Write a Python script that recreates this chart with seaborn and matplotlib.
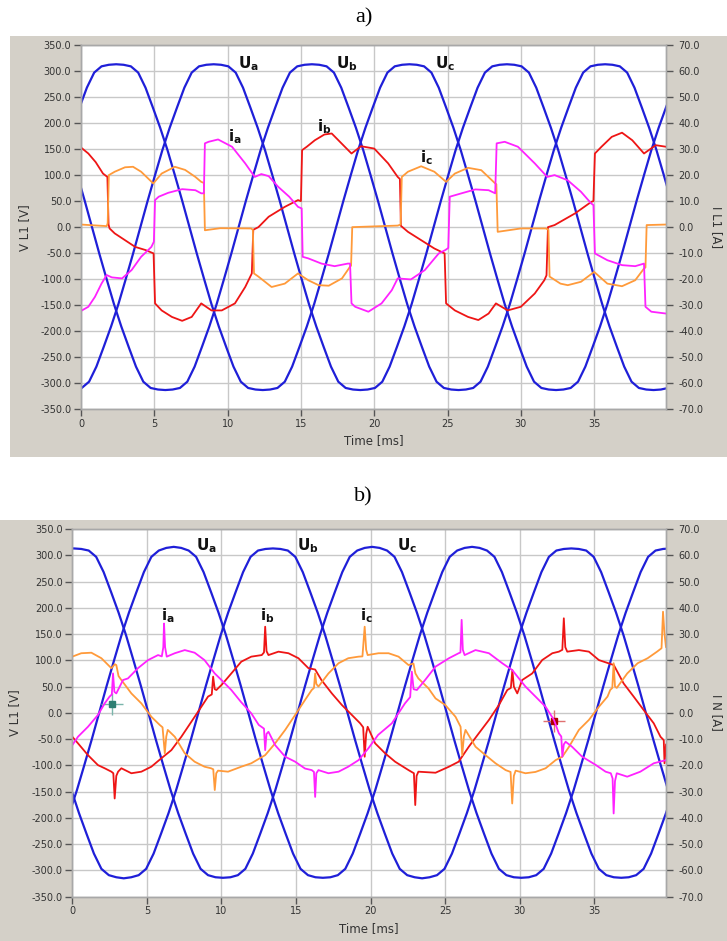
import numpy as np
import matplotlib
matplotlib.use("Agg")
import matplotlib.pyplot as plt
import seaborn as sns
from matplotlib.patches import Rectangle

# ------------------------------------------------------------------ data
SAMPLE_MS = 0.5   # voltage traces are read every 0.5 ms from their start time

# panel a) phase voltages [V]
ua_a_start = -0.45
ua_a = [-312, -309, -297, -268, -230, -191, -148, -100, -51,
        0, 51, 100, 148, 191, 230, 268, 297, 309, 312, 313, 312, 309, 297, 268, 230, 191, 148, 100, 51,
        0, -51, -100, -148, -191, -230, -268, -297, -309, -312, -313, -312, -309, -297, -268, -230, -191, -148, -100, -51,
        0, 51, 100, 148, 191, 230, 268, 297, 309, 312, 313, 312, 309, 297, 268, 230, 191, 148, 100, 51,
        0, -51, -100, -148, -191, -230, -268, -297, -309, -312, -313, -312, -309]
ub_a_start = -0.25
ub_a = [100, 51, 0, -51, -100, -148, -191, -230, -268, -297, -309, -312, -313, -312, -309, -297, -268, -230, -191, -148, -100, -51,
        0, 51, 100, 148, 191, 230, 268, 297, 309, 312, 313, 312, 309, 297, 268, 230, 191, 148, 100, 51,
        0, -51, -100, -148, -191, -230, -268, -297, -309, -312, -313, -312, -309, -297, -268, -230, -191, -148, -100, -51,
        0, 51, 100, 148, 191, 230, 268, 297, 309, 312, 313, 312, 309, 297, 268, 230, 191, 148, 100, 51]
uc_a_start = -0.10
uc_a = [230, 268, 297, 309, 312, 313, 312, 309, 297, 268, 230, 191, 148, 100, 51,
        0, -51, -100, -148, -191, -230, -268, -297, -309, -312, -313, -312, -309, -297, -268, -230, -191, -148, -100, -51,
        0, 51, 100, 148, 191, 230, 268, 297, 309, 312, 313, 312, 309, 297, 268, 230, 191, 148, 100, 51,
        0, -51, -100, -148, -191, -230, -268, -297, -309, -312, -313, -312, -309, -297, -268, -230, -191, -148, -100, -51,
        0, 51, 100, 148, 191, 230, 268]

# panel b) phase voltages [V]
ua_b_start = -0.20
ua_b = [-191, -148, -100, -51,
        0, 51, 100, 148, 191, 230, 268, 297, 309, 314, 316, 314, 309, 297, 268, 230, 191, 148, 100, 51,
        0, -51, -100, -148, -191, -230, -268, -297, -309, -313, -314, -313, -309, -297, -268, -230, -191, -148, -100, -51,
        0, 51, 100, 148, 191, 230, 268, 297, 309, 314, 316, 314, 309, 297, 268, 230, 191, 148, 100, 51,
        0, -51, -100, -148, -191, -230, -268, -297, -309, -313, -314, -313, -309, -297, -268, -230, -191, -148]
ub_b_start = -0.05
ub_b = [-148, -191, -230, -268, -297, -309, -313, -315, -313, -309, -297, -268, -230, -191, -148, -100, -51,
        0, 51, 100, 148, 191, 230, 268, 297, 309, 312, 313, 312, 309, 297, 268, 230, 191, 148, 100, 51,
        0, -51, -100, -148, -191, -230, -268, -297, -309, -313, -315, -313, -309, -297, -268, -230, -191, -148, -100, -51,
        0, 51, 100, 148, 191, 230, 268, 297, 309, 312, 313, 312, 309, 297, 268, 230, 191, 148, 100, 51,
        0, -51, -100, -148, -191]
uc_b_start = -0.40
uc_b = [312, 313, 312, 309, 297, 268, 230, 191, 148, 100, 51,
        0, -51, -100, -148, -191, -230, -268, -297, -309, -313, -314, -313, -309, -297, -268, -230, -191, -148, -100, -51,
        0, 51, 100, 148, 191, 230, 268, 297, 309, 314, 316, 314, 309, 297, 268, 230, 191, 148, 100, 51,
        0, -51, -100, -148, -191, -230, -268, -297, -309, -313, -314, -313, -309, -297, -268, -230, -191, -148, -100, -51,
        0, 51, 100, 148, 191, 230, 268, 297, 309, 312, 313]

# panel a) phase currents [ms, A]
ia_a = [(0, -32.2), (0.5, -30.6), (0.95, -26.8), (1.4, -21.7), (1.75, -18.4), (2.1, -19.3), (2.8, -19.7),
        (3.45, -16.5), (4.1, -11.4), (4.8, -7.6), (4.97, -5.6), (5.05, 10.4), (5.3, 11.7), (5.95, 13.2),
        (6.9, 14.6), (7.8, 14.2), (8.2, 13.0), (8.38, 13.0), (8.45, 32.2), (8.7, 32.8), (9.35, 33.7),
        (10.3, 30.9), (11.2, 24.5), (11.85, 19.3), (12.3, 20.4), (12.8, 19.6), (13.45, 15.5), (14.2, 11.7),
        (14.8, 7.8), (15.05, 7.2), (15.12, -11.4), (15.5, -12.0), (16.4, -14.0), (17.3, -15.0), (18.2, -14.0),
        (18.35, -14.0), (18.45, -29.3), (18.7, -30.6), (19.6, -32.5), (20.5, -29.3), (21.2, -24.2),
        (21.6, -19.7), (22.5, -20.1), (23.45, -16.5), (24.4, -10.1), (24.85, -8.8), (25.05, -8.0),
        (25.15, 11.7), (25.95, 13.0), (26.9, 14.5), (27.8, 14.2), (28.25, 13.0), (28.35, 32.2), (28.9, 32.8),
        (29.8, 30.9), (30.95, 24.5), (31.8, 19.3), (32.3, 20.0), (33.2, 18.0), (34.1, 13.6), (34.8, 9.1),
        (34.95, 8.5), (35.05, -10.1), (35.9, -12.7), (36.9, -14.6), (37.8, -15.0), (38.4, -14.0),
        (38.5, -30.6), (38.9, -32.5), (39.9, -33.2)]
ib_a = [(0, 30.6), (0.5, 28.3), (1.0, 25.0), (1.5, 20.6), (1.8, 19.3), (1.88, 1.0), (1.95, -0.5), (2.3, -2.4),
        (3.0, -5.0), (3.7, -7.6), (4.4, -8.8), (4.95, -10.1), (5.05, -29.3), (5.5, -32.0), (6.2, -34.5),
        (6.9, -36.0), (7.55, -34.5), (8.2, -29.3), (8.9, -32.0), (9.6, -32.0), (10.5, -29.3), (11.2, -23.0),
        (11.65, -17.8), (11.75, -1.0), (12.1, 0.0), (12.8, 4.0), (13.9, 7.8), (14.8, 10.4), (15.0, 10.0),
        (15.08, 29.6), (15.4, 30.9), (15.95, 33.4), (16.6, 35.6), (17.1, 36.0), (17.8, 32.0), (18.45, 28.3),
        (19.1, 31.1), (20.0, 30.2), (20.95, 24.5), (21.6, 19.3), (21.75, 18.5), (21.82, 0.5), (22.3, -1.8),
        (23.2, -5.0), (24.1, -8.2), (24.8, -10.1), (24.9, -29.3), (25.5, -32.0), (26.4, -34.5), (27.1, -35.7),
        (27.8, -33.2), (28.3, -29.3), (29.1, -32.0), (30.0, -30.6), (30.95, -25.5), (31.6, -20.4),
        (31.75, -18.5), (31.85, 0.0), (32.3, 0.8), (33.7, 5.3), (34.8, 9.7), (34.95, 10.0), (35.05, 28.3),
        (35.5, 30.9), (36.2, 34.7), (36.9, 36.3), (37.6, 33.4), (38.4, 28.3), (39.2, 31.5), (39.9, 30.9)]
ic_a = [(0, 1.0), (1.75, 0.4), (1.82, 1.5), (1.9, 20.0), (2.3, 21.3), (3.0, 23.0), (3.55, 23.2), (4.1, 21.3),
        (4.93, 16.8), (5.5, 20.6), (6.4, 23.2), (7.1, 22.0), (7.8, 19.3), (8.2, 17.4), (8.38, 17.0),
        (8.45, -1.2), (9.5, -0.4), (11.6, -0.5), (11.72, -1.0), (11.8, -17.8), (12.1, -19.0), (13.0, -23.0),
        (13.9, -21.7), (14.8, -17.8), (15.5, -20.4), (16.2, -22.3), (16.9, -22.5), (17.8, -19.7),
        (18.35, -15.2), (18.42, -14.8), (18.5, 0.0), (21.6, 0.6), (21.8, 1.0), (21.88, 19.3), (22.3, 21.3),
        (23.2, 23.4), (24.1, 21.3), (24.9, 17.4), (25.5, 20.6), (26.4, 22.8), (27.3, 21.9), (28.25, 16.8),
        (28.33, 16.5), (28.42, -1.8), (30.0, -0.5), (31.7, -0.5), (31.88, -1.0), (31.96, -19.0),
        (32.7, -21.7), (33.2, -22.3), (34.1, -21.0), (35.0, -17.2), (35.9, -21.7), (36.9, -22.7),
        (37.8, -20.4), (38.4, -15.9), (38.5, -15.5), (38.58, 0.8), (39.9, 1.0)]

# panel b) phase currents [ms, A]
ia_b = [(0, -12.3), (0.38, -9.1), (1.05, -5.3), (1.72, -0.8), (2.17, 3.6), (2.5, 6.2), (2.65, 7.0), (2.73, 15.0),
        (2.82, 8.0), (2.95, 7.4), (3.18, 10.0), (3.4, 12.5), (3.73, 13.1), (4.4, 17.0), (5.08, 20.1),
        (5.75, 22.0), (6.0, 21.5), (6.1, 25.0), (6.15, 34.0), (6.22, 25.0), (6.33, 21.4), (6.87, 22.7),
        (7.54, 23.9), (8.2, 22.9), (8.86, 20.1), (9.55, 15.0), (10.0, 12.5), (10.66, 8.7), (11.3, 4.2),
        (12.0, -0.2), (12.5, -4.6), (12.85, -6.0), (12.93, -14.2), (13.02, -8.0), (13.15, -7.2), (13.6, -12.3),
        (14.27, -16.7), (14.94, -18.6), (15.6, -21.2), (16.05, -21.8), (16.2, -22.5), (16.28, -32.0),
        (16.36, -23.0), (16.5, -21.8), (17.17, -23.0), (17.85, -22.4), (18.5, -20.5), (19.19, -18.0),
        (19.85, -13.5), (20.5, -8.4), (21.42, -4.0), (22.3, 3.6), (22.65, 6.0), (22.76, 15.7), (22.88, 9.0),
        (23.1, 8.7), (23.65, 12.5), (24.35, 17.6), (25.25, 20.8), (25.9, 22.7), (26.02, 23.0), (26.1, 35.4),
        (26.18, 24.0), (26.3, 22.0), (27.03, 23.9), (27.93, 22.7), (28.82, 18.9), (29.49, 16.3),
        (29.94, 13.1), (30.38, 10.0), (31.05, 6.2), (31.73, 2.3), (32.29, -2.7), (32.62, -7.8), (32.78, -9.0),
        (32.85, -16.7), (32.95, -12.0), (33.07, -11.0), (33.5, -12.9), (34.18, -16.7), (35.08, -19.8),
        (35.75, -22.4), (36.1, -23.0), (36.22, -25.0), (36.29, -38.3), (36.38, -26.0), (36.5, -23.0),
        (37.2, -24.3), (38.08, -22.4), (38.98, -19.2), (39.8, -18.0)]
ib_b = [(0, -9.1), (0.38, -11.6), (1.05, -16.1), (1.72, -19.9), (2.17, -21.1), (2.62, -22.4), (2.75, -23.0),
        (2.84, -32.6), (2.95, -24.0), (3.07, -22.4), (3.29, -21.1), (3.96, -23.0), (4.63, -22.4), (5.3, -20.5),
        (5.97, -17.3), (6.64, -14.2), (7.31, -9.1), (7.98, -3.4), (8.65, 2.3), (9.1, 6.2), (9.35, 7.0),
        (9.44, 13.8), (9.55, 9.0), (9.66, 8.7), (10.0, 10.6), (10.66, 15.0), (11.33, 19.5), (12.0, 21.4),
        (12.7, 22.0), (12.85, 23.0), (12.93, 32.8), (13.02, 23.5), (13.15, 22.0), (13.82, 23.3), (14.49, 22.7),
        (15.16, 20.8), (15.83, 17.0), (16.28, 16.5), (16.7, 12.5), (17.4, 7.4), (18.07, 3.0), (18.74, -0.8),
        (19.3, -4.0), (19.5, -5.5), (19.6, -16.7), (19.7, -8.0), (19.8, -5.3), (20.3, -11.6), (20.97, -15.4),
        (21.64, -18.6), (22.54, -21.8), (22.9, -23.0), (22.99, -35.1), (23.08, -24.0), (23.2, -22.4),
        (24.35, -22.8), (25.25, -20.5), (25.9, -18.6), (26.58, -12.9), (27.25, -7.8), (27.93, -2.7),
        (28.6, 3.0), (29.16, 8.7), (29.4, 9.5), (29.5, 16.3), (29.6, 10.0), (29.83, 7.4), (30.16, 12.5),
        (30.83, 15.0), (31.5, 20.1), (32.18, 22.7), (32.62, 23.3), (32.85, 24.0), (32.95, 36.0), (33.05, 25.0),
        (33.18, 23.3), (33.96, 23.9), (34.63, 23.3), (35.3, 20.1), (36.3, 18.2), (36.96, 11.2), (37.63, 6.2),
        (38.3, 1.1), (38.98, -4.0), (39.43, -9.1), (39.65, -10.4), (39.7, -19.2), (39.8, -12.0)]
ic_b = [(0, 21.4), (0.6, 22.7), (1.28, 22.9), (1.95, 20.8), (2.62, 17.0), (2.85, 18.5), (2.95, 18.2), (3.1, 14.0),
        (3.29, 12.5), (3.96, 7.4), (4.63, 3.6), (5.3, -1.5), (5.86, -4.6), (6.05, -5.5), (6.2, -15.4),
        (6.3, -9.0), (6.4, -6.5), (6.87, -9.1), (7.54, -15.4), (8.2, -18.6), (8.86, -20.5), (9.3, -21.1),
        (9.45, -21.5), (9.55, -29.4), (9.65, -23.0), (9.77, -22.0), (10.44, -22.4), (11.33, -20.5),
        (12.0, -19.2), (12.93, -16.1), (13.6, -11.6), (14.27, -6.5), (14.94, -0.8), (15.6, 4.9), (16.05, 8.7),
        (16.2, 9.5), (16.28, 15.0), (16.36, 11.0), (16.5, 10.0), (17.17, 15.0), (17.85, 18.9), (18.5, 20.8),
        (19.19, 21.4), (19.45, 21.5), (19.6, 32.8), (19.7, 24.0), (19.8, 22.0), (20.53, 22.7), (21.2, 22.7),
        (21.87, 21.4), (22.54, 18.2), (22.87, 18.8), (23.0, 15.0), (23.2, 13.1), (23.88, 9.3), (24.35, 5.5),
        (25.0, 3.0), (25.69, -1.5), (26.03, -5.3), (26.14, -16.1), (26.25, -9.0), (26.36, -6.5),
        (27.03, -12.9), (27.7, -16.1), (28.37, -19.2), (29.05, -21.8), (29.38, -22.5), (29.49, -34.5),
        (29.6, -24.0), (29.72, -22.0), (30.38, -23.0), (31.05, -22.5), (31.73, -21.1), (32.4, -18.0),
        (32.85, -16.7), (33.3, -12.9), (33.96, -6.5), (34.63, -2.7), (35.3, 2.3), (35.88, 6.2), (36.06, 8.7),
        (36.2, 9.5), (36.29, 18.9), (36.38, 10.0), (36.5, 9.5), (37.2, 15.0), (37.9, 18.9), (38.57, 20.8),
        (39.2, 23.3), (39.5, 24.6), (39.6, 38.5), (39.7, 30.0), (39.8, 25.0)]

# axis ticks / limits / labels
volt_ticks = [-350, -300, -250, -200, -150, -100, -50, 0, 50, 100, 150, 200, 250, 300, 350]
curr_ticks = [-70, -60, -50, -40, -30, -20, -10, 0, 10, 20, 30, 40, 50, 60, 70]
time_ticks = [0, 5, 10, 15, 20, 25, 30, 35]
time_max = {"a": 39.9, "b": 39.8}
right_labels = {"a": "I L1 [A]", "b": "I N [A]"}
panel_titles = {"a": "a)", "b": "b)"}

# trace labels: (text, time ms, voltage)
labels_a = [(r"$\mathbf{U}_\mathbf{a}$", 11.43, 315), (r"$\mathbf{U}_\mathbf{b}$", 18.14, 315),
            (r"$\mathbf{U}_\mathbf{c}$", 24.83, 315), (r"$\mathbf{i}_\mathbf{a}$", 10.48, 173),
            (r"$\mathbf{i}_\mathbf{b}$", 16.58, 193), (r"$\mathbf{i}_\mathbf{c}$", 23.54, 134)]
labels_b = [(r"$\mathbf{U}_\mathbf{a}$", 8.99, 318), (r"$\mathbf{U}_\mathbf{b}$", 15.82, 318),
            (r"$\mathbf{U}_\mathbf{c}$", 22.43, 318), (r"$\mathbf{i}_\mathbf{a}$", 6.42, 185),
            (r"$\mathbf{i}_\mathbf{b}$", 13.09, 185), (r"$\mathbf{i}_\mathbf{c}$", 19.74, 185)]
# cursors in panel b: (time ms, voltage)
cursor_green = (2.64, 17.0)
cursor_red = (32.3, -15.0)

# ------------------------------------------------------------------ style
sns.set_theme(style="white")
plt.rcParams["font.family"] = ["DejaVu Sans"]
plt.rcParams["mathtext.fontset"] = "dejavusans"

BLUE = "#1f1fd8"
RED = "#ee1515"
MAGENTA = "#ff22ff"
ORANGE = "#ff9a3a"
FRAME = "#d4d0c8"
GRID = "#c8c8c8"
TXT = "#333333"

W, H = 727, 941
fig = plt.figure(figsize=(W / 100, H / 100), dpi=100)
fig.patch.set_facecolor("white")

# grey instrument-window frames (pixel boxes)
fig.add_artist(Rectangle((10 / W, 1 - 457 / H), (W - 10) / W, (457 - 36) / H,
                         transform=fig.transFigure, facecolor=FRAME, edgecolor="none", zorder=0))
fig.add_artist(Rectangle((0, 0), 1, (H - 520) / H,
                         transform=fig.transFigure, facecolor=FRAME, edgecolor="none", zorder=0))

boxes = {"a": (81, 45, 666, 409.3), "b": (72.3, 529, 666, 896.7)}
title_y = {"a": 18, "b": 497}
xlabel_y = {"a": 441, "b": 929}
ylabel_x = {"a": 25, "b": 15}

volt_data = {"a": [(ua_a_start, ua_a), (ub_a_start, ub_a), (uc_a_start, uc_a)],
             "b": [(ua_b_start, ua_b), (ub_b_start, ub_b), (uc_b_start, uc_b)]}
curr_data = {"a": [(ib_a, RED), (ic_a, ORANGE), (ia_a, MAGENTA)],
             "b": [(ib_b, RED), (ic_b, ORANGE), (ia_b, MAGENTA)]}
label_data = {"a": labels_a, "b": labels_b}

for key in ["a", "b"]:
    x0, y0, x1, y1 = boxes[key]
    ax = fig.add_axes([x0 / W, 1 - y1 / H, (x1 - x0) / W, (y1 - y0) / H])
    ax.set_facecolor("white")
    ax2 = ax.twinx()

    for start, vals in volt_data[key]:
        t = start + SAMPLE_MS * np.arange(len(vals))
        sns.lineplot(x=t, y=np.array(vals, dtype=float), ax=ax, color=BLUE, lw=1.6,
                     estimator=None, sort=False, legend=False)
    for pairs, col in curr_data[key]:
        arr = np.array(pairs, dtype=float)
        sns.lineplot(x=arr[:, 0], y=arr[:, 1], ax=ax2, color=col, lw=1.3,
                     estimator=None, sort=False, legend=False)

    ax.set_xlim(0, time_max[key])
    ax.set_ylim(-350, 350)
    ax2.set_ylim(-70, 70)
    ax.set_xticks(time_ticks)
    ax.set_xticklabels([str(v) for v in time_ticks])
    ax.set_yticks(volt_ticks)
    ax.set_yticklabels([f"{v:.1f}" for v in volt_ticks])
    ax2.set_yticks(curr_ticks)
    ax2.set_yticklabels([f"{v:.1f}" for v in curr_ticks])

    ax.grid(True, color=GRID, lw=1.0)
    ax.set_axisbelow(True)
    ax2.grid(False)
    for a in (ax, ax2):
        for s in a.spines.values():
            s.set_color("#a8a8a8")
            s.set_linewidth(1.0)
    ax.tick_params(axis="both", direction="out", length=5, width=1, color="#555555",
                   labelsize=7, labelcolor=TXT, pad=2, left=True, bottom=True)
    ax2.tick_params(axis="y", direction="out", length=5, width=1, color="#555555",
                    labelsize=7, labelcolor=TXT, pad=4, right=True)

    ax.set_xlabel("Time [ms]", fontsize=8.5, color=TXT, va="center")
    ax.set_ylabel("V L1 [V]", fontsize=8.5, color=TXT, va="center")
    ax2.set_ylabel(right_labels[key], fontsize=8.5, color=TXT, rotation=270, va="center")
    wpx = x1 - x0
    hpx = y1 - y0
    ax.xaxis.set_label_coords(0.5, -(xlabel_y[key] - y1) / hpx)
    ax.yaxis.set_label_coords((ylabel_x[key] - x0) / wpx, 0.5)
    ax2.yaxis.set_label_coords((716.7 - x0) / wpx, 0.5)

    for txt, tx, vy in label_data[key]:
        ax.text(tx, vy, txt, fontsize=11, color="#111111", ha="center", va="center", zorder=10)

    if key == "b":
        gx, gy = cursor_green
        ax.plot([gx], [gy], marker="+", ms=16, mew=1.0, color="#7ab5ab", zorder=11)
        ax.plot([gx], [gy], marker="s", ms=4, color="#2e7f73", zorder=12)
        rx, ry = cursor_red
        ax.plot([rx], [ry], marker="+", ms=16, mew=1.0, color="#e07070", zorder=11)
        ax.plot([rx], [ry], marker="s", ms=4, color="#b00000", zorder=12)

    fig.text(0.5, 1 - title_y[key] / H, panel_titles[key], ha="center", va="center",
             fontsize=16, family=["Liberation Serif", "DejaVu Serif"], color="black")

fig.savefig("out.png", dpi=100, facecolor="white")
